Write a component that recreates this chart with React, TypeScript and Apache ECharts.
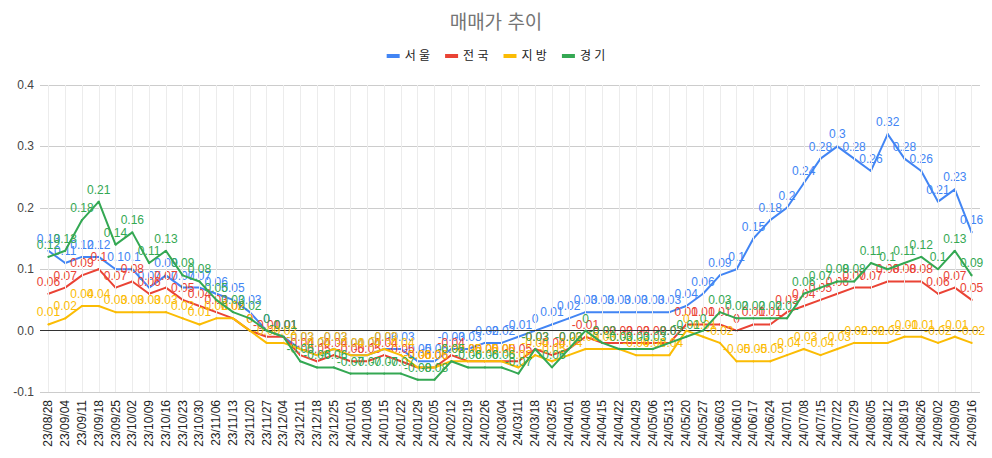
import React, { useEffect, useRef } from "react";
import * as echarts from "echarts";

const categories = [
  "23/08/28","23/09/04","23/09/11","23/09/18","23/09/25","23/10/02","23/10/09","23/10/16","23/10/23","23/10/30",
  "23/11/06","23/11/13","23/11/20","23/11/27","23/12/04","23/12/11","23/12/18","23/12/25","24/01/01","24/01/08",
  "24/01/15","24/01/22","24/01/29","24/02/05","24/02/12","24/02/19","24/02/26","24/03/04","24/03/11","24/03/18",
  "24/03/25","24/04/01","24/04/08","24/04/15","24/04/22","24/04/29","24/05/06","24/05/13","24/05/20","24/05/27",
  "24/06/03","24/06/10","24/06/17","24/06/24","24/07/01","24/07/08","24/07/15","24/07/22","24/07/29","24/08/05",
  "24/08/12","24/08/19","24/08/26","24/09/02","24/09/09","24/09/16",
];

const seoul = [
  0.13, 0.11, 0.12, 0.12, 0.1, 0.1, 0.07, 0.09, 0.07, 0.07,
  0.06, 0.05, 0.03, 0, -0.01, -0.03, -0.04, -0.03, -0.04, -0.04,
  -0.03, -0.03, -0.05, -0.05, -0.03, -0.03, -0.02, -0.02, -0.01, 0,
  0.01, 0.02, 0.03, 0.03, 0.03, 0.03, 0.03, 0.03, 0.04, 0.06,
  0.09, 0.1, 0.15, 0.18, 0.2, 0.24, 0.28, 0.3, 0.28, 0.26,
  0.32, 0.28, 0.26, 0.21, 0.23, 0.16,
];

const national = [
  0.06, 0.07, 0.09, 0.1, 0.07, 0.08, 0.06, 0.07, 0.05, 0.04,
  0.03, 0.02, 0, -0.01, -0.01, -0.04, -0.05, -0.04, -0.05, -0.05,
  -0.04, -0.05, -0.06, -0.06, -0.04, -0.05, -0.05, -0.05, -0.05, -0.03,
  -0.04, -0.03, -0.01, -0.02, -0.02, -0.02, -0.02, -0.02, 0.01, 0.01,
  0.01, 0, 0.01, 0.01, 0.03, 0.04, 0.05, 0.06, 0.07, 0.07,
  0.08, 0.08, 0.08, 0.06, 0.07, 0.05,
];

const provinces = [
  0.01, 0.02, 0.04, 0.04, 0.03, 0.03, 0.03, 0.03, 0.02, 0.01,
  0.02, 0.02, 0, -0.02, -0.02, -0.03, -0.04, -0.03, -0.04, -0.04,
  -0.03, -0.04, -0.06, -0.06, -0.05, -0.05, -0.05, -0.05, -0.06, -0.04,
  -0.05, -0.04, -0.03, -0.03, -0.03, -0.04, -0.04, -0.04, 0, -0.01,
  -0.02, -0.05, -0.05, -0.05, -0.04, -0.03, -0.04, -0.03, -0.02, -0.02,
  -0.02, -0.01, -0.01, -0.02, -0.01, -0.02,
];

const gyeonggi = [
  0.12, 0.13, 0.18, 0.21, 0.14, 0.16, 0.11, 0.13, 0.09, 0.08,
  0.05, 0.03, 0.02, 0, -0.01, -0.05, -0.06, -0.06, -0.07, -0.07,
  -0.07, -0.07, -0.08, -0.08, -0.05, -0.06, -0.06, -0.06, -0.07, -0.03,
  -0.06, -0.03, 0, -0.02, -0.03, -0.03, -0.03, -0.02, -0.01, 0,
  0.03, 0.02, 0.02, 0.02, 0.02, 0.06, 0.07, 0.08, 0.08, 0.11,
  0.1, 0.11, 0.12, 0.1, 0.13, 0.09,
];

const seriesNames = ["서 울", "전 국", "지 방", "경 기"];
const seriesColors = ["#4285F4", "#EA4335", "#FBBC04", "#34A853"];
const seriesData = [seoul, national, provinces, gyeonggi];

const FONT = "Arial, 'Liberation Sans', 'Noto Sans CJK KR', sans-serif";

export default function App() {
  const ref = useRef<HTMLDivElement>(null);

  useEffect(() => {
    if (!ref.current) return;
    const chart = echarts.init(ref.current, undefined, { renderer: "svg" });

    const lineSeries = seriesNames.map((name, idx) => ({
      name,
      type: "line",
      data: seriesData[idx],
      color: seriesColors[idx],
      symbol: "circle",
      symbolSize: 2,
      showSymbol: true,
      lineStyle: { width: 2, color: seriesColors[idx] },
      itemStyle: { color: seriesColors[idx] },
      label: {
        show: true,
        position: "top",
        distance: 5,
        color: seriesColors[idx],
        fontSize: 12,
        fontFamily: FONT,
        formatter: (p: any) => String(p.value),
      },
      z: 3 + idx,
    }));

    const gridSeries = {
      name: "grid",
      type: "line",
      data: categories.map(() => null),
      showSymbol: false,
      silent: true,
      z: 1,
      markLine: {
        silent: true,
        symbol: ["none", "none"],
        label: { show: false },
        animation: false,
        data: [
          ...categories.map((c) => ({
            xAxis: c,
            lineStyle: { color: "#ececec", width: 1, type: "solid" },
          })),
          { yAxis: 0, lineStyle: { color: "#333333", width: 1, type: "solid" } },
        ],
      },
    };

    chart.setOption({
      animation: false,
      backgroundColor: "#ffffff",
      textStyle: { fontFamily: FONT },
      title: {
        text: "매매가 추이",
        left: "center",
        top: 13,
        padding: 0,
        textStyle: { color: "#757575", fontSize: 19, fontWeight: "normal", fontFamily: FONT },
      },
      legend: {
        data: seriesNames,
        top: 50,
        left: "center",
        padding: 0,
        icon: "rect",
        itemWidth: 13,
        itemHeight: 4,
        itemGap: 15,
        textStyle: { color: "#222222", fontSize: 12, fontFamily: FONT },
      },
      grid: { left: 40, right: 12, top: 85, bottom: 66, containLabel: false },
      xAxis: {
        type: "category",
        data: categories,
        boundaryGap: true,
        axisLine: { show: false },
        axisTick: { show: false },
        splitLine: { show: false },
        axisLabel: {
          rotate: 90,
          interval: 0,
          margin: 8,
          color: "#222222",
          fontSize: 12,
          fontFamily: FONT,
        },
      },
      yAxis: {
        type: "value",
        min: -0.1,
        max: 0.4,
        interval: 0.1,
        axisLine: { show: false },
        axisTick: { show: false },
        splitLine: { show: true, lineStyle: { color: "#cccccc", width: 1 } },
        axisLabel: {
          margin: 6,
          color: "#444444",
          fontSize: 12,
          fontFamily: FONT,
          formatter: (v: number) => v.toFixed(1),
        },
      },
      series: [gridSeries, ...lineSeries],
    });

    return () => {
      chart.dispose();
    };
  }, []);

  return (
    <div
      ref={ref}
      style={{ position: "fixed", left: 0, top: 0, width: 992, height: 458, background: "#fff" }}
    />
  );
}
